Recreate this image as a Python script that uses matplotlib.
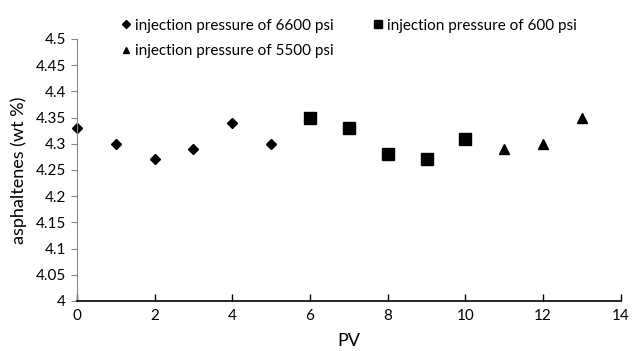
import matplotlib
matplotlib.use("Agg")
import matplotlib.pyplot as plt

# data
pv_6600 = [0, 1, 2, 3, 4, 5]
asph_6600 = [4.33, 4.30, 4.27, 4.29, 4.34, 4.30]

pv_600 = [6, 7, 8, 9, 10]
asph_600 = [4.35, 4.33, 4.28, 4.27, 4.31]

pv_5500 = [11, 12, 13]
asph_5500 = [4.29, 4.30, 4.35]

x_ticks = [0, 2, 4, 6, 8, 10, 12, 14]
y_ticks = [4, 4.05, 4.1, 4.15, 4.2, 4.25, 4.3, 4.35, 4.4, 4.45, 4.5]
y_tick_labels = ["4", "4.05", "4.1", "4.15", "4.2", "4.25", "4.3", "4.35", "4.4", "4.45", "4.5"]

plt.rcParams['font.family'] = ['Lato', 'DejaVu Sans']

fig = plt.figure(figsize=(6.33, 3.51), dpi=100)
ax = fig.add_axes([0.1216, 0.1425, 0.859, 0.7465])

h1, = ax.plot(pv_6600, asph_6600, 'D', color='black', ms=5.5, linestyle='none',
              label='injection pressure of 6600 psi', clip_on=False)
h2, = ax.plot(pv_600, asph_600, 's', color='black', ms=8, linestyle='none',
              label='injection pressure of 600 psi', clip_on=False)
h3, = ax.plot(pv_5500, asph_5500, '^', color='black', ms=7, linestyle='none',
              label='injection pressure of 5500 psi', clip_on=False)

ax.set_xlim(0, 14)
ax.set_ylim(4, 4.5)
ax.set_xticks(x_ticks)
ax.set_yticks(y_ticks)
ax.set_yticklabels(y_tick_labels)

ax.spines['top'].set_visible(False)
ax.spines['right'].set_visible(False)
ax.spines['left'].set_color('#888888')
ax.spines['left'].set_linewidth(0.8)
ax.spines['bottom'].set_color('black')
ax.spines['bottom'].set_linewidth(1.2)

ax.tick_params(axis='x', direction='in', length=5, width=1, labelsize=11, pad=6)
ax.tick_params(axis='y', direction='out', length=4, width=0.8, color='#888888', labelsize=11, pad=4)

ax.set_xlabel('PV', fontsize=13, labelpad=7)
ax.set_ylabel('asphaltenes (wt %)', fontsize=13, labelpad=6)

fig.legend(handles=[h1, h3, h2], loc='upper left', bbox_to_anchor=(0.175, 0.977),
           ncol=2, frameon=False, fontsize=11, handletextpad=0.3,
           handlelength=0.6, columnspacing=2.6, labelspacing=0.75,
           markerscale=0.7, borderaxespad=0.3)

fig.savefig('out.png', dpi=100)
